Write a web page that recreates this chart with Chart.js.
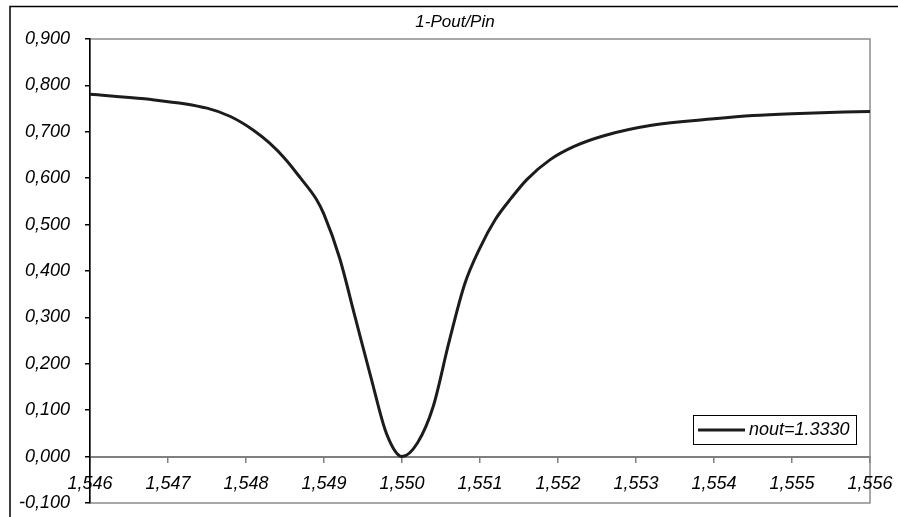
<!DOCTYPE html>
<html>
<head>
<meta charset="utf-8">
<script src="https://cdn.jsdelivr.net/npm/chart.js@4"></script>
<style>
  html, body { margin: 0; padding: 0; background: #fff; }
  #wrap { width: 898px; height: 517px; }
</style>
</head>
<body>
<div id="wrap"><canvas id="lossChart" width="898" height="517"></canvas></div>
<script>
// wavelength (um) and 1-Pout/Pin for nout=1.3330
const wavelength = [
  1.5460, 1.5467, 1.5475, 1.5478, 1.5481, 1.5483, 1.5485, 1.5487, 1.5489, 1.5490,
  1.5492, 1.5494, 1.5496, 1.5498, 1.5500, 1.5502, 1.5504, 1.5506, 1.5508, 1.5510,
  1.5512, 1.5514, 1.5516, 1.5519, 1.5522, 1.5526, 1.5532, 1.5540, 1.5545, 1.5550,
  1.5560
];
const transmissionLoss = [
  0.781, 0.771, 0.751, 0.733, 0.703, 0.676, 0.642, 0.600, 0.555, 0.522,
  0.428, 0.300, 0.172, 0.050, 0.000, 0.030, 0.108, 0.245, 0.370, 0.450,
  0.512, 0.557, 0.597, 0.640, 0.668, 0.692, 0.714, 0.728, 0.735, 0.739,
  0.744
];
const seriesName = 'nout=1.3330';
const chartTitle = '1-Pout/Pin';
const xMin = 1.546, xMax = 1.556, xStep = 0.001;
const yMin = -0.1, yMax = 0.9, yStep = 0.1;

const fmt = v => v.toFixed(3).replace('.', ',');
const tickFont = { family: '"Liberation Sans", Arial, sans-serif', size: 18, style: 'italic' };

// frame, title and legend box drawn around the plot
const excelFrame = {
  id: 'excelFrame',
  beforeDraw(chart) {
    const { ctx, chartArea: a } = chart;
    ctx.save();
    ctx.fillStyle = '#fff';
    ctx.fillRect(0, 0, chart.width, chart.height);
    ctx.strokeStyle = '#000';
    ctx.lineWidth = 1.5;
    ctx.strokeRect(10, 6.5, chart.width + 20, chart.height + 20);
    ctx.strokeStyle = '#8c8c8c';
    ctx.lineWidth = 1.5;
    ctx.strokeRect(a.left, a.top, a.right - a.left, a.bottom - a.top);
    ctx.restore();
  },
  afterDraw(chart) {
    const { ctx } = chart;
    const ds = chart.data.datasets[0];
    ctx.save();
    ctx.fillStyle = '#000';
    ctx.font = 'italic 17px "Liberation Sans", Arial, sans-serif';
    ctx.textAlign = 'center';
    ctx.textBaseline = 'middle';
    ctx.fillText(chartTitle, 455, 22);

    // legend
    ctx.strokeStyle = '#000';
    ctx.lineWidth = 1;
    ctx.strokeRect(693.5, 415.5, 163, 29);
    ctx.strokeStyle = ds.borderColor;
    ctx.lineWidth = 3;
    ctx.beginPath();
    ctx.moveTo(698, 430);
    ctx.lineTo(745, 430);
    ctx.stroke();
    ctx.font = 'italic 18px "Liberation Sans", Arial, sans-serif';
    ctx.textAlign = 'left';
    ctx.fillText(ds.label, 749, 430);
    ctx.restore();
  }
};

const ctx = document.getElementById('lossChart').getContext('2d');
const lossChart = new Chart(ctx, {
  type: 'scatter',
  data: {
    datasets: [{
      label: seriesName,
      data: wavelength.map((w, i) => ({ x: w, y: transmissionLoss[i] })),
      showLine: true,
      borderColor: '#1c1c1c',
      borderWidth: 3,
      pointRadius: 0,
      cubicInterpolationMode: 'monotone',
      fill: false
    }]
  },
  options: {
    responsive: false,
    animation: false,
    layout: { padding: { left: 10, right: 28, top: 39, bottom: 14 } },
    plugins: {
      legend: { display: false },
      title: { display: false },
      tooltip: { enabled: false }
    },
    scales: {
      x: {
        type: 'linear',
        min: xMin,
        max: xMax,
        position: { y: 0 },
        afterFit(scale) { scale.paddingLeft = 0; scale.paddingRight = 0; },
        grid: { drawOnChartArea: false, tickLength: 5, color: '#808080', lineWidth: 1.5 },
        border: { color: '#808080', width: 2 },
        ticks: {
          stepSize: xStep,
          color: '#000',
          font: tickFont,
          padding: 12,
          maxRotation: 0,
          autoSkip: false,
          callback: v => fmt(v)
        }
      },
      y: {
        min: yMin,
        max: yMax,
        afterFit(scale) { scale.width = 80; scale.paddingTop = 0; scale.paddingBottom = 0; },
        grid: { drawOnChartArea: false, tickLength: 5, color: '#000', lineWidth: 1.5 },
        border: { color: '#000', width: 1.5 },
        ticks: {
          stepSize: yStep,
          color: '#000',
          font: tickFont,
          padding: 15,
          callback: v => fmt(v)
        }
      }
    }
  },
  plugins: [excelFrame]
});
</script>
</body>
</html>
